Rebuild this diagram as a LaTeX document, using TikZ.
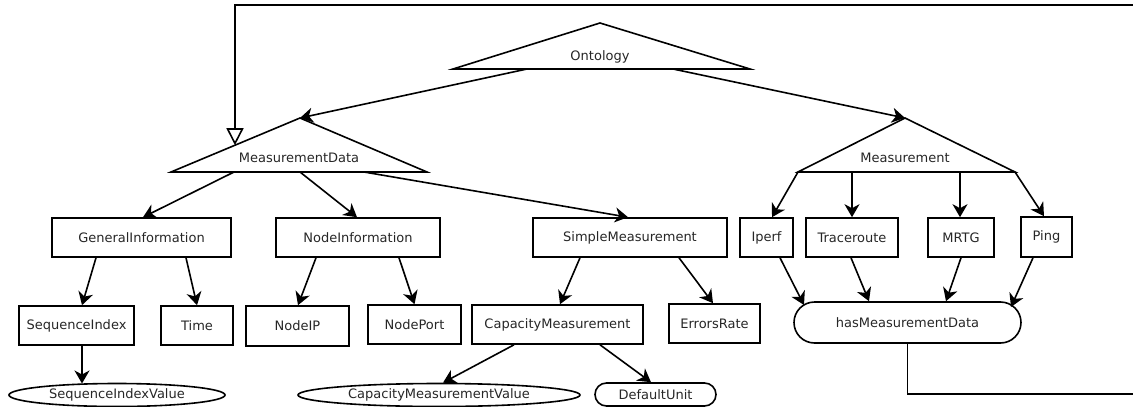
\documentclass[tikz,border=0pt]{standalone}
\usepackage{fontspec}
\setmainfont{DejaVu Sans}
\usetikzlibrary{arrows.meta,calc,shapes.geometric}
\begin{document}
\begin{tikzpicture}[x=1pt,y=-1pt,
  every node/.style={font=\fontsize{13}{15}\selectfont, text=black!85, inner sep=0pt},
  line/.style={line width=1.6pt, line join=miter},
  arr/.style={line width=1.6pt, -{Stealth[length=13pt,width=15pt,inset=4pt]}},
  inh/.style={line width=1.6pt, -{Triangle[open,length=17pt,width=17pt,fill=white]}},
  box/.style={draw, line width=1.6pt, rectangle},
  pill/.style={draw, line width=1.6pt, rectangle},
  oval/.style={draw, line width=1.6pt, ellipse}]
\useasboundingbox (0,0) rectangle (1133,407);
% triangles
\coordinate (OntA) at (600,23); \coordinate (OntL) at (453,69); \coordinate (OntR) at (750,69);
\draw[line] (OntL) -- (OntA) -- (OntR) -- cycle;
\node (Ont) at (600,57) {Ontology};
\coordinate (MDA) at (300,118); \coordinate (MDL) at (171,172); \coordinate (MDR) at (427,172);
\draw[line] (MDL) -- (MDA) -- (MDR) -- cycle;
\node (MD) at (299,158) {MeasurementData};
\coordinate (MEA) at (905,118); \coordinate (MEL) at (798,172); \coordinate (MER) at (1015,172);
\draw[line] (MEL) -- (MEA) -- (MER) -- cycle;
\node (ME) at (905,158) {Measurement};
% row 1
\node[box, minimum width=179pt, minimum height=39pt] (GI) at (141.5,237.5) {GeneralInformation};
\node[box, minimum width=164pt, minimum height=39pt] (NI) at (358,237.5) {NodeInformation};
\node[box, minimum width=194pt, minimum height=39pt] (SM) at (630,237.5) {SimpleMeasurement};
\node[box, minimum width=53pt, minimum height=39pt] (IP) at (766.5,237.5) {Iperf};
\node[box, minimum width=92pt, minimum height=39pt] (TR) at (852,237.5) {Traceroute};
\node[box, minimum width=66pt, minimum height=39pt] (MR) at (961,237.5) {MRTG};
\node[box, minimum width=51pt, minimum height=40pt] (PI) at (1046.5,237) {Ping};
% row 2
\node[box, minimum width=115pt, minimum height=39pt] (SI) at (76.5,325.5) {SequenceIndex};
\node[box, minimum width=72pt, minimum height=39pt] (TI) at (197,325.5) {Time};
\node[box, minimum width=103pt, minimum height=40pt] (NIP) at (297.5,326) {NodeIP};
\node[box, minimum width=93pt, minimum height=39pt] (NP) at (414.5,324.5) {NodePort};
\node[box, minimum width=171pt, minimum height=39pt] (CM) at (557.5,324.5) {CapacityMeasurement};
\node[box, minimum width=91pt, minimum height=39pt] (ER) at (714.5,323.5) {ErrorsRate};
\node[pill, rounded corners=20.5pt, minimum width=227pt, minimum height=41pt] (HM) at (907.5,322.5) {hasMeasurementData};
% row 3
\node[oval, minimum width=216pt, minimum height=23pt] (SIV) at (117,395) {SequenceIndexValue};
\node[oval, minimum width=282pt, minimum height=23pt] (CMV) at (439,395) {CapacityMeasurementValue};
\node[pill, rounded corners=11.5pt, minimum width=121pt, minimum height=23pt] (DU) at (655.5,394.5) {DefaultUnit};
% connectors from triangles
\coordinate (o1) at ($(OntL)+(74,0)$);
\coordinate (o2) at ($(OntL)+(220,0)$);
\draw[arr] (o1) -- (MDA);
\draw[arr] (o2) -- (MEA);
\coordinate (m1) at ($(MDL)+(63,0)$);
\coordinate (m2) at ($(MDL)+(129,0)$);
\coordinate (m3) at ($(MDL)+(193,0)$);
\draw[arr] (m1) -- ([xshift=1.5pt]GI.north);
\draw[arr] (m2) -- ([xshift=-1pt]NI.north);
\draw[arr] (m3) -- ([xshift=-2pt]SM.north);
\coordinate (e2) at ($(MEL)+(54,0)$);
\coordinate (e3) at ($(MEL)+(162,0)$);
\draw[arr] (MEL) -- ([xshift=5.5pt]IP.north);
\draw[arr] (e2) -- (TR.north);
\draw[arr] (e3) -- ([xshift=-1pt]MR.north);
\draw[arr] (MER) -- ([xshift=-2.5pt]PI.north);
% row1 -> row2
\draw[arr] ([xshift=-45.5pt]GI.south) -- ([xshift=5.5pt]SI.north);
\draw[arr] ([xshift=44.5pt]GI.south) -- (TI.north);
\draw[arr] ([xshift=-42pt]NI.south) -- ([xshift=0.5pt]NIP.north);
\draw[arr] ([xshift=41pt]NI.south) -- (NP.north);
\draw[arr] ([xshift=-50pt]SM.south) -- ([xshift=2.5pt]CM.north);
\draw[arr] ([xshift=49pt]SM.south) -- ([xshift=-1.5pt]ER.north);
\draw[arr] ([xshift=13.5pt]IP.south) -- ($(HM.center)+(-103.5,-17.5)$);
\draw[arr] ([xshift=-1pt]TR.south) -- ([xshift=-38.5pt]HM.north);
\draw[arr] (MR.south) -- ([xshift=38.5pt]HM.north);
\draw[arr] ([xshift=-13.5pt]PI.south) -- ($(HM.center)+(103.5,-15.5)$);
% row2 -> row3
\draw[arr] ([xshift=5.5pt]SI.south) -- ($(SIV.center)+(-35,-11.5)$);
\draw[arr] ([xshift=-43.5pt]CM.south) -- ($(CMV.north)+(4,0)$);
\draw[arr] ([xshift=42.5pt]CM.south) -- ([xshift=-4.5pt]DU.north);
% feedback loop
\coordinate (BR) at (1134,394);
\coordinate (TRc) at (1134,5);
\coordinate (MDin) at ($(MDL)!0.496!(MDA)$);
\draw[line] (HM.south) |- (BR);
\draw[inh] (TRc) -| (MDin);
\end{tikzpicture}
\end{document}
